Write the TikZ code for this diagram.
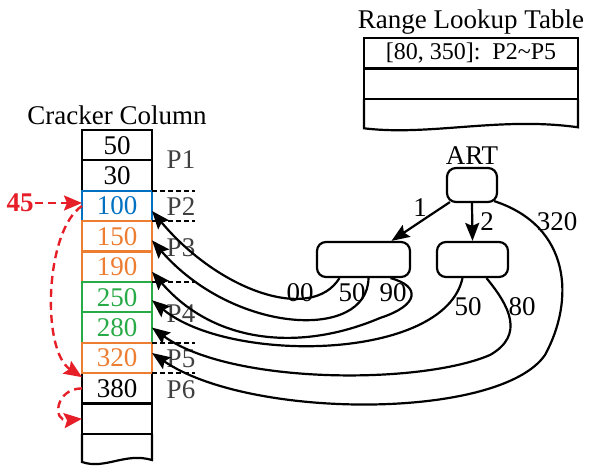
\documentclass[tikz,border=0pt]{standalone}
\usepackage{fontspec}
\setmainfont{Liberation Serif}
\usetikzlibrary{positioning, arrows.meta, calc}
\newcommand\mainsize{\fontsize{27}{29}\selectfont}
\newcommand\tabsize{\fontsize{24}{26}\selectfont}
\definecolor{cellblue}{RGB}{0,112,192}
\definecolor{cellorange}{RGB}{237,125,49}
\definecolor{cellgreen}{RGB}{40,170,70}
\definecolor{crackred}{RGB}{230,30,40}
\tikzset{
  cellbox/.style={draw, line width=2.2pt, minimum width=70pt, minimum height=30.4pt,
                  inner sep=0pt, outer sep=0pt, font=\mainsize},
  rowbox/.style={draw, line width=2.2pt, minimum width=214pt, minimum height=30.8pt,
                 inner sep=0pt, outer sep=0pt, font=\tabsize},
  treebox/.style={draw, line width=2.2pt, rounded corners=9pt, minimum height=35pt, inner sep=0pt},
  wire/.style={-{Stealth[length=18pt,width=14pt,inset=3pt]}, line width=2.2pt},
  movewire/.style={-{Stealth[length=18pt,width=15pt,inset=3pt]}, line width=2.4pt, dash pattern=on 8pt off 5pt, crackred},
  sepline/.style={line width=2pt, dash pattern=on 5pt off 3pt},
  edgelabel/.style={font=\mainsize, inner sep=1pt}
}

\begin{document}
\begin{tikzpicture}[x=1pt, y=-1pt]
  \useasboundingbox (0,0) rectangle (590,470);
  % cracker column
  \foreach \i/\v in {0/50, 1/30, 8/380, 9/{}}
    \node[cellbox] (c\i) at (117, {145.2+30.4*\i}) {\v};
  \foreach \i/\v/\c in {2/100/cellblue, 3/150/cellorange, 4/190/cellorange,
                        5/250/cellgreen, 6/280/cellgreen, 7/320/cellorange}
    \node[cellbox, draw=\c, text=\c] (c\i) at (117, {145.2+30.4*\i}) {\v};
  \draw[line width=2.2pt] (c9.south west) -- ++(0,28)
    .. controls +(23,8) and +(-27,-8) .. ($(c9.south east)+(0,26)$) -- (c9.south east);
  \node[font=\mainsize, inner sep=2pt, above=3pt of c0] (cct) {Cracker Column};
  \foreach \p/\y in {1/160, 2/207, 3/248, 4/314, 5/359, 6/390}
    \node[edgelabel, text=black!75] (p\p) at (181,\y) {P\p};
  \foreach \i in {1,2,4,6,7}
    \draw[sepline] (c\i.south east) -- ++(43,0);

  % range lookup table
  \node[rowbox] (r0) at (471,53.1) {[80, 350]:\ \ P2\textasciitilde P5};
  \node[rowbox] (r1) at (471,83.9) {};
  \draw[line width=2.2pt] (r1.south west) -- ++(0,29)
    .. controls +(66,8) and +(-78,-11) .. ($(r1.south east)+(0,28)$) -- (r1.south east);
  \node[font=\mainsize, inner sep=2pt, above=1pt of r0] (rlt) {Range Lookup Table};

  % ART
  \node[treebox, minimum width=50pt, minimum height=34pt] (root) at (472,185) {};
  \node[edgelabel, above=1pt of root] (art) {ART};
  \node[treebox, minimum width=93pt] (lchild) at (363.5,259.5) {};
  \node[treebox, minimum width=71pt] (rchild) at (472.5,259.5) {};
  \draw[wire] ($(root.south west)+(4,-1)$) -- ($(lchild.north)+(28,0)$);
  \draw[wire] (root.south) -- (rchild.north);
  \node[edgelabel] (k1) at (420,208) {1};
  \node[edgelabel] (k2) at (487,222) {2};

  % pointers into the column
  \draw[wire] ($(lchild.south)+(-24,0)$) .. controls +(-28,45) and +(67,80) .. ($(c2.east)+(0,5)$);
  \draw[wire] ($(lchild.south)+(5,0)$) .. controls +(-1,63) and +(82,94) .. ($(c3.east)+(0,4)$);
  \draw[wire] ($(lchild.south)+(27,0)$) .. controls +(30,8) and +(40,-13) .. (380,318)
    .. controls +(-80,34) and +(62,72) .. ($(c4.east)+(0,5)$);
  \draw[wire] ($(rchild.south)+(-10,0)$) .. controls +(-18,83) and +(77,64) .. ($(c5.east)+(0,3)$);
  \draw[wire] ($(rchild.south)+(14,0)$) .. controls +(23,28) and +(35,-20) .. (490,355)
    .. controls +(-70,30) and +(78,57) .. (c6.east);
  \draw[wire] ($(root.south east)+(-4,-2)$) .. controls +(77,25) and +(30,-55) .. (545,355)
    .. controls +(-45,65) and +(98,67) .. ($(c7.east)+(0,-5)$);
  \node[edgelabel] (lab00) at (300,293) {00};
  \node[edgelabel] (lab50a) at (352,293) {50};
  \node[edgelabel] (lab90) at (393,293) {90};
  \node[edgelabel] (lab50b) at (468,307) {50};
  \node[edgelabel] (lab80) at (522,307) {80};
  \node[edgelabel] (lab320) at (557,222) {320};

  % insert 45
  \node[edgelabel, text=crackred, font=\mainsize\bfseries] (n45) at (20,203) {45};
  \draw[movewire] (n45.east) -- (n45.east -| c2.west);
  \draw[movewire] (c2.west) .. controls +(-37,24) and +(-41,-27) .. ($(c8.north west)+(0,4)$);
  \draw[movewire] (c8.west) .. controls +(-27,0) and +(-30,3) .. (c9.west);
\end{tikzpicture}
\end{document}
